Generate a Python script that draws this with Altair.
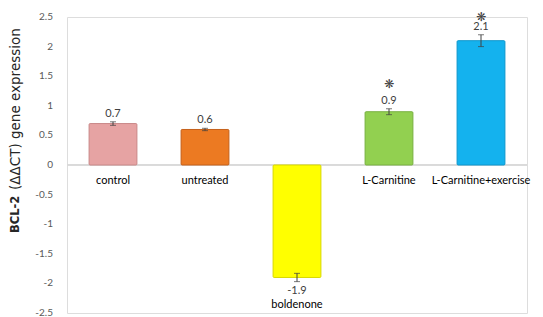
import altair as alt
import pandas as pd

cats = ["control", "untreated", "boldenone", "L-Carnitine", "L-Carnitine+exercise"]
values = [0.7, 0.6, -1.9, 0.9, 2.1]
errors = [0.03, 0.02, 0.07, 0.05, 0.1]
colors = ["#E6A3A3", "#EC7A22", "#FFFF00", "#92D050", "#14B2EE"]
strokes = ["#C98888", "#C5601A", "#D8D800", "#78B040", "#0E96CC"]
sig = ["", "", "", "❋", "❋"]
y_ticks = [-2.5, -2, -1.5, -1, -0.5, 0, 0.5, 1, 1.5, 2, 2.5]
y_tick_text = ["-2.5", "-2", "-1.5", "-1", "-0.5", "0", "0.5", "1", "1.5", "2", "2.5"]

df = pd.DataFrame({
    "cat": cats,
    "value": values,
    "err": errors,
    "lo": [v - e for v, e in zip(values, errors)],
    "hi": [v + e for v, e in zip(values, errors)],
    "label": [str(v) for v in values],
    "sig": sig,
})
ticks_df = pd.DataFrame({"tv": y_ticks, "tt": y_tick_text})

FONT = "Lato"
W, H = 460, 296

x = alt.X("cat:N", sort=cats, axis=None,
          scale=alt.Scale(domain=cats, paddingInner=0.48, paddingOuter=0.24))
yscale = alt.Scale(domain=[-2.5, 2.5], nice=False, zero=False)
yaxis = alt.Axis(values=y_ticks, labels=False, domain=False, title=None,
                 ticks=False, grid=False)


def Y(field):
    return alt.Y(field, scale=yscale, axis=yaxis, title=None)


base = alt.Chart(df)

bars = base.mark_bar(strokeWidth=1, cornerRadius=1).encode(
    x=x,
    y=Y("value:Q"),
    y2=alt.datum(0),
    fill=alt.Fill("cat:N", scale=alt.Scale(domain=cats, range=colors), legend=None),
    stroke=alt.Stroke("cat:N", scale=alt.Scale(domain=cats, range=strokes), legend=None),
)

tick_labels = alt.Chart(ticks_df).mark_text(
    font=FONT, fontSize=10, color="#595959", align="right", baseline="middle"
).encode(x=alt.value(-14), y=Y("tv:Q"), text="tt:N")

zero = base.mark_rule(color="#D9D9D9", strokeWidth=1).encode(
    y=alt.datum(0), x=alt.value(0), x2=alt.value(W)
)

err_rule = base.mark_rule(color="#404040", strokeWidth=1).encode(
    x=x, y=Y("lo:Q"), y2="hi:Q"
)
cap_lo = base.mark_tick(color="#404040", thickness=1, size=6, orient="horizontal").encode(
    x=x, y=Y("lo:Q")
)
cap_hi = base.mark_tick(color="#404040", thickness=1, size=6, orient="horizontal").encode(
    x=x, y=Y("hi:Q")
)

pos = base.transform_filter("datum.value >= 0")
neg = base.transform_filter("datum.value < 0")

val_pos = pos.mark_text(font=FONT, fontSize=11, color="#404040", baseline="bottom", dy=-3).encode(
    x=x, y=Y("hi:Q"), text="label:N"
)
val_neg = neg.mark_text(font=FONT, fontSize=11, color="#404040", baseline="top", dy=3).encode(
    x=x, y=Y("lo:Q"), text="label:N"
)
cat_pos = pos.mark_text(font=FONT, fontSize=11, color="#000000", baseline="top", dy=10).encode(
    x=x, y=alt.datum(0), text="cat:N"
)
cat_neg = neg.mark_text(font=FONT, fontSize=11, color="#000000", baseline="top", dy=17).encode(
    x=x, y=Y("lo:Q"), text="cat:N"
)
stars = base.transform_filter("datum.sig != ''").transform_calculate(
    star_y="min(datum.hi + 0.42, 2.5)"
).mark_text(
    font="DejaVu Sans", fontSize=12, color="#404040", baseline="middle"
).encode(x=x, y=Y("star_y:Q"), text="sig:N")

title_bold = alt.Chart(pd.DataFrame({"t": ["BCL-2"]})).mark_text(
    font="DejaVu Sans", fontSize=11.5, fontWeight="bold", color="#262626", angle=270,
    align="left", baseline="middle"
).encode(x=alt.value(-51), y=alt.value(216), text="t:N")
title_rest = alt.Chart(pd.DataFrame({"t": ["(ΔΔCT)  gene  expression"]})).mark_text(
    font="DejaVu Sans", fontSize=13.5, color="#262626", angle=270, align="left",
    baseline="middle"
).encode(x=alt.value(-51), y=alt.value(173), text="t:N")

chart = alt.layer(
    zero, bars, err_rule, cap_lo, cap_hi, val_pos, val_neg, cat_pos, cat_neg, stars,
    tick_labels, title_bold, title_rest
).properties(
    width=W, height=H,
    autosize=alt.AutoSizeParams(type="none"),
    padding={"left": 59, "top": 9, "right": 8, "bottom": 4},
).configure_view(stroke=None).configure(background="white")

chart.save("out.html", embed_options={"renderer": "svg", "actions": False})
